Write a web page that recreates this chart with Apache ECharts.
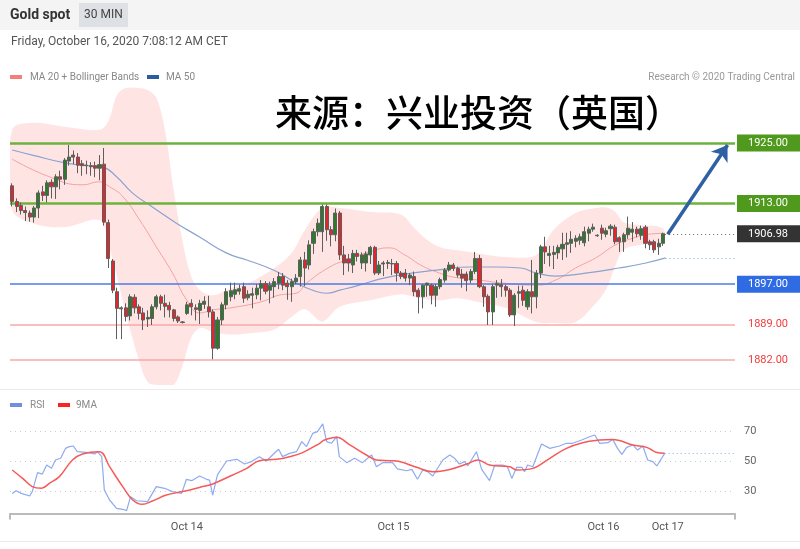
<!DOCTYPE html>
<html><head><meta charset="utf-8">
<script src="https://cdn.jsdelivr.net/npm/echarts@6/dist/echarts.min.js"></script>
<style>html,body{margin:0;padding:0;background:#fff}#c{width:800px;height:549px}</style>
</head><body><div id="c"></div>
<script>
// ---- data ----
// candles: [open, close, low, high], 30-min bars
const candles = [
[1916.5,1913.4,1912.4,1917.0],[1913.4,1912.4,1911.3,1914.0],[1912.6,1911.6,1910.8,1913.2],[1911.6,1911.2,1909.5,1912.4],
[1911.1,1910.3,1909.4,1911.6],[1910.3,1912.1,1909.2,1912.5],[1912.1,1915.1,1910.1,1915.6],[1915.3,1914.6,1913.5,1916.5],
[1914.6,1917.1,1913.2,1917.6],[1917.2,1916.3,1914.0,1917.8],[1916.3,1918.3,1913.9,1918.8],[1918.3,1917.8,1915.8,1919.5],
[1917.8,1921.6,1916.7,1922.0],[1921.4,1922.2,1920.5,1924.6],[1922.6,1922.2,1920.8,1923.5],[1922.2,1920.6,1919.0,1923.0],
[1920.9,1920.5,1918.5,1921.6],[1920.6,1920.5,1918.8,1921.5],[1920.5,1920.3,1918.5,1921.2],[1920.5,1920.0,1918.2,1921.3],
[1920.0,1920.7,1917.6,1922.6],[1920.8,1909.3,1908.6,1924.0],[1909.2,1902.1,1900.2,1909.8],[1901.6,1895.8,1895.2,1902.0],
[1895.5,1892.2,1886.1,1896.3],[1892.3,1892.1,1886.1,1892.6],[1892.3,1890.6,1889.6,1893.2],[1890.7,1894.5,1889.8,1895.0],
[1894.4,1892.3,1891.2,1895.0],[1892.5,1891.2,1890.0,1893.0],[1891.3,1889.9,1887.9,1892.3],[1890.1,1890.4,1888.5,1891.8],
[1890.2,1892.5,1888.9,1893.0],[1892.5,1894.5,1892.0,1894.9],[1894.5,1893.2,1891.8,1894.9],[1893.2,1892.6,1890.4,1894.9],
[1892.8,1891.9,1890.4,1893.5],[1891.9,1890.2,1889.6,1892.1],[1890.5,1889.7,1889.3,1890.8],[1889.5,1889.4,1889.2,1889.7],
[1891.2,1892.9,1890.9,1893.5],[1893.2,1892.5,1890.8,1894.0],[1892.3,1892.0,1889.8,1893.0],[1891.8,1893.2,1889.1,1893.9],
[1893.0,1893.6,1892.1,1894.6],[1892.5,1891.5,1890.4,1894.7],[1891.5,1884.3,1882.1,1892.0],[1884.3,1889.9,1884.0,1890.5],
[1889.9,1892.9,1888.9,1893.4],[1892.9,1895.5,1892.0,1896.2],[1894.5,1895.7,1893.6,1897.3],[1895.0,1895.9,1894.0,1897.3],
[1895.6,1896.1,1894.9,1896.9],[1896.5,1894.2,1893.3,1897.3],[1894.3,1895.0,1893.8,1895.8],[1894.8,1895.1,1892.2,1896.3],
[1894.9,1896.2,1894.0,1897.0],[1896.2,1897.1,1893.8,1897.8],[1897.1,1895.6,1895.0,1897.6],[1895.8,1896.8,1893.2,1897.5],
[1896.5,1897.5,1894.3,1898.2],[1897.2,1898.5,1896.0,1899.4],[1898.5,1896.8,1895.8,1899.2],[1897.2,1896.5,1893.9,1897.8],
[1896.5,1897.5,1893.5,1898.1],[1897.5,1898.2,1897.0,1899.0],[1898.5,1901.8,1896.5,1902.4],[1901.8,1900.2,1896.6,1903.4],
[1900.8,1904.8,1899.9,1905.7],[1905.1,1907.4,1903.0,1908.0],[1907.4,1909.1,1906.5,1910.0],[1907.4,1912.4,1903.4,1912.8],
[1912.4,1907.8,1905.6,1912.8],[1907.8,1906.8,1904.5,1908.5],[1906.8,1911.1,1905.5,1912.0],[1911.1,1902.8,1901.8,1911.5],
[1902.8,1901.2,1898.8,1904.6],[1902.0,1901.2,1899.5,1903.0],[1900.8,1903.1,1899.2,1903.8],[1903.1,1902.5,1901.5,1903.8],
[1901.2,1902.8,1900.0,1903.3],[1901.2,1903.0,1899.5,1903.5],[1902.8,1904.3,1901.0,1904.6],[1904.3,1899.2,1898.8,1904.6],
[1899.2,1900.8,1898.8,1901.6],[1901.0,1901.2,1898.6,1901.6],[1901.1,1901.3,1900.0,1901.8],[1901.1,1901.0,1898.8,1902.0],
[1901.1,1899.2,1897.5,1901.6],[1899.2,1898.5,1898.0,1899.6],[1899.2,1898.2,1897.5,1900.0],[1898.2,1898.8,1896.8,1899.2],
[1898.5,1895.5,1894.6,1899.5],[1895.8,1894.5,1891.2,1896.2],[1894.5,1896.8,1892.2,1897.0],[1896.8,1897.2,1894.5,1897.3],
[1896.8,1894.8,1893.0,1897.1],[1894.8,1896.5,1892.5,1897.0],[1896.5,1897.9,1896.0,1898.3],[1897.8,1899.8,1897.3,1900.2],
[1899.8,1900.8,1899.5,1901.4],[1900.8,1900.1,1899.6,1901.2],[1900.1,1898.8,1898.3,1900.5],[1899.0,1898.2,1896.3,1900.0],
[1899.0,1897.7,1895.6,1899.5],[1897.8,1899.5,1897.2,1900.0],[1899.5,1902.1,1899.0,1903.4],[1902.1,1896.5,1896.2,1902.8],
[1896.5,1894.5,1892.5,1896.8],[1894.6,1891.5,1888.9,1895.0],[1891.5,1896.5,1888.9,1897.0],[1896.8,1897.1,1894.3,1897.8],
[1896.9,1896.5,1894.5,1898.0],[1896.5,1895.8,1894.5,1896.9],[1895.8,1890.9,1890.5,1896.2],[1890.9,1894.8,1888.7,1895.2],
[1895.2,1895.5,1892.3,1896.7],[1895.8,1893.8,1892.7,1896.7],[1892.5,1895.5,1891.9,1896.0],[1895.5,1894.5,1891.2,1901.8],
[1894.5,1899.2,1892.2,1899.8],[1899.2,1904.4,1898.2,1904.8],[1904.4,1903.4,1901.0,1906.4],[1902.7,1903.1,1900.5,1904.6],
[1902.9,1903.3,1900.0,1904.6],[1903.2,1904.3,1902.0,1904.8],[1904.0,1904.9,1901.8,1907.2],[1904.9,1905.2,1902.3,1907.2],
[1905.1,1905.9,1903.2,1907.5],[1905.5,1906.1,1904.3,1906.7],[1905.7,1906.4,1904.8,1907.0],[1905.2,1907.4,1904.5,1908.4],
[1907.1,1907.9,1905.5,1908.4],[1907.9,1908.3,1907.4,1909.0],[1906.7,1906.6,1906.4,1906.9],[1908.1,1907.1,1905.8,1908.8],
[1906.9,1907.6,1906.3,1908.2],[1908.0,1908.5,1906.6,1908.9],[1908.3,1905.4,1904.9,1908.8],[1906.2,1905.4,1903.4,1906.5],
[1905.4,1906.8,1903.4,1907.2],[1906.8,1908.1,1906.0,1910.4],[1907.3,1907.9,1905.4,1909.3],[1907.9,1907.0,1906.3,1908.4],
[1906.7,1908.0,1905.8,1908.6],[1908.3,1905.1,1904.1,1908.7],[1905.4,1904.8,1903.8,1905.8],[1905.4,1903.8,1903.2,1905.8],
[1904.4,1905.1,1902.8,1906.0],[1905.1,1906.98,1904.6,1907.2]
];
const slotCount = 166; // bar slots across the plot (data + empty space on the right)

const bandIdx   = [0,5,12,20,22,24,26,29,31,33,35,37,39,41,43,46,50,55,60,64,67,71,75,82,89,92,95,98,102,108,113,120,124,129,133,136,138,140,144,149];
const bandUpper = [1927.6,1929.0,1928.2,1927.6,1929.3,1934.5,1935.9,1935.9,1935.5,1934.0,1927.4,1915.5,1905.5,1898.5,1895.8,1894.8,1896.2,1897.6,1900.2,1903.2,1907.7,1912.1,1912.1,1911.3,1910.8,1908.2,1905.8,1904.3,1903.7,1902.9,1902.4,1902.8,1907.8,1911.1,1912.0,1912.2,1911.4,1909.3,1908.7,1908.1];
const bandLower = [1911.7,1909.0,1908.3,1909.7,1905.0,1898.5,1891.3,1882.0,1877.6,1877.0,1877.0,1877.0,1880.8,1886.4,1888.3,1887.5,1887.0,1887.3,1888.0,1890.5,1892.0,1889.6,1892.5,1893.8,1895.0,1894.5,1894.0,1893.8,1894.2,1893.2,1892.3,1889.5,1889.3,1889.5,1892.6,1896.0,1900.4,1903.8,1904.8,1905.4];

const ma20Idx = [0,8.5,16,20,22.3,25.3,29.2,33,36.7,40,43,46,50,57,61,65,67.4,72.7,76.6,81.8,86.2,89.9,93.5,97.2,101,107,112.5,120,124.4,129,133.6,138.2,142.8,145.7,149.5];
const ma20Val = [1921.8,1918.3,1916.7,1917.3,1916.3,1914.4,1909.7,1904.4,1899.2,1893.8,1891.3,1891.9,1892.3,1893.5,1894.8,1895.2,1897.2,1900.4,1901.8,1903.4,1904.2,1902.8,1900.8,1899.4,1898.4,1897.8,1897.2,1896.8,1897.8,1900.2,1902.2,1904.8,1906.3,1906.9,1907.1];

const ma50Idx = [0,4.6,12.4,18.4,20.7,23.9,27.5,32.1,37.6,43,49,53.7,58.2,61.2,65.1,68.8,72,75,79.5,84.1,89.9,97.2,105,111,116.4,120,124.4,131.3,138.9,145.1,149.6];
const ma50Val = [1923.6,1922.6,1921.0,1920.4,1920.2,1918.3,1915.1,1912.3,1909.1,1906.3,1903.2,1901.8,1900.4,1899.2,1897.2,1895.8,1895.2,1895.8,1896.8,1898.0,1899.0,1899.8,1900.4,1900.4,1900.2,1899.2,1898.6,1899.2,1900.2,1901.2,1902.2];

const rsiIdx = [0,0.9,2.1,4.0,4.6,5.8,6.9,7.9,9.0,9.9,11.1,12.2,13.1,14.0,14.9,17.0,18.9,19.5,20.5,21.1,22.3,23.9,25.3,26.2,27.1,28.5,31.0,33.0,34.9,36.7,38.8,39.9,41.1,42.9,44.5,45.2,45.9,47.0,49.1,51.4,53.2,54.8,56.6,58.2,59.6,61.0,61.9,63.5,65.1,66.3,67.4,68.8,69.9,71.1,72.0,73.1,74.3,74.9,76.6,78.4,80.2,82.3,83.4,84.8,87.1,88.2,90.3,91.5,92.8,94.0,95.1,96.3,98.6,100.2,101.3,102.4,103.6,104.3,106.3,107.5,109.3,110.5,112.3,113.4,114.4,115.5,116.7,117.3,118.0,119.2,121.2,123.1,125.3,126.9,128.3,130.4,132.2,133.4,134.5,136.4,137.5,138.6,139.6,140.7,142.1,143.2,144.4,145.5,146.7,147.6,149.4];
const rsiVal = [28.4,30.2,28.4,26.7,29.6,42.2,41.3,47.3,45.1,50.7,51.8,58.4,59.6,60,56.2,55.8,54.7,56.2,52.9,30.7,24,18.4,17.8,16.9,26.2,23.5,22.9,32.9,31.8,29.6,28.4,37.8,36.9,40,37.8,37.3,27.3,40.7,50,51.1,48,49.6,52.9,50,54,57.8,52.9,55.1,56.2,62.9,59.6,68.4,69.6,74.7,62.9,61.8,66.2,52.9,48.9,51.8,48.9,54,46.2,48.9,48.9,44.7,43.5,44.4,37.8,44,42.9,40,50.7,54,51.8,48,49.6,46.7,56.2,44.4,36.9,47.3,47.3,46.2,38.4,45.8,45.8,42.9,47.3,46.2,61.3,58.4,60,61.8,61.8,64,66.2,67.3,61.8,62.2,64.4,58.4,54.4,59.1,60.7,57.3,60,50.7,49.6,46.7,55.1];

const ma9Idx = [0,2.4,4.6,6.7,8.5,10.8,13.8,16.1,20.0,22.3,25.3,27.6,29.8,32.1,35.3,39.0,42.9,45.9,50.5,53.7,56.6,60.5,63.5,66.5,70.4,71.5,74.3,77.3,81.1,83.4,86.4,88.7,92.6,96.3,100.2,104.1,106.6,109.3,113.9,115.5,119.2,123.1,126.9,130.6,134.5,137.5,142.1,145.3,147.6,149.4];
const ma9Val = [44,38.4,32.9,31.8,35.1,39.6,50.7,54.7,56.2,46.2,32.9,24,21.1,23.3,27.3,29.6,32.4,34.7,40.7,45.1,50.2,51.1,52.9,55.6,61.8,64,65.8,60.7,54,50.7,50.2,49.6,45.8,42.9,44.4,48,50.7,47.3,46.2,44,45.1,51.8,58.4,62.2,64,64.4,60.7,59.1,55.6,55.1];

const levelsGreen = [1925, 1913];
const levelBlue = 1897;
const levelsRed = [1889, 1882];
const lastPrice = 1906.98;
const lastMa50 = 1902.2;
const lastRsi = 55.1;
const arrowFrom = [150.1, 1906.9];
const arrowTo = [163.8, 1924.6];

const xLabelPos = [40, 87.3, 135.4, 150.1];
const xLabelText = ['Oct 14', 'Oct 15', 'Oct 16', 'Oct 17'];
const rsiTicks = [30, 50, 70];

// ---- build ----
const pairs = (idx, val) => idx.map((v, i) => [v, val[i]]);
const cats = Array.from({length: slotCount}, (_, i) => i);
const FONT = 'Roboto, "Noto Sans", sans-serif';

function tag(text, bg, color) {
  return {show: true, position: 'end', distance: 2, formatter: text, color: color || '#fff',
    backgroundColor: bg || 'transparent', padding: [3, 12, 3, 11], fontSize: 11, fontFamily: FONT};
}

const mainLines = [];
levelsGreen.forEach(v => mainLines.push({yAxis: v, lineStyle: {color: '#6cb33e', width: 2.5, type: 'solid'}, label: tag(v.toFixed(2), '#4f9a1c')}));
mainLines.push({yAxis: levelBlue, lineStyle: {color: '#4a7ce6', width: 1.5, type: 'solid'}, label: tag(levelBlue.toFixed(2), '#2f6be3')});
levelsRed.forEach(v => mainLines.push({yAxis: v, lineStyle: {color: '#f7a9a9', width: 1.5, type: 'solid'}, label: tag(v.toFixed(2), null, '#f03c3c')}));
mainLines.push([{coord: [candles.length - 0.5, lastPrice], lineStyle: {color: '#666', width: 1, type: [1, 3]}, label: tag(lastPrice.toFixed(2), '#333')}, {coord: [slotCount - 0.5, lastPrice]}]);
mainLines.push([{coord: [candles.length - 0.4, lastMa50], lineStyle: {color: '#7fa0dc', width: 1, type: [1, 3]}, label: {show: false}}, {coord: [slotCount - 0.5, lastMa50]}]);
mainLines.push([{coord: arrowFrom, symbol: 'none', lineStyle: {color: '#2f60a3', width: 3.5, type: 'solid'}, label: {show: false}}, {coord: arrowTo, symbol: 'arrow', symbolSize: 15}]);

const bandData = bandIdx.map((v, i) => [v, bandUpper[i], bandLower[i]]);

function renderBand(params, api) {
  if (params.dataIndex !== 0) return null;
  const pts = [];
  for (let i = 0; i < bandData.length; i++) pts.push(api.coord([bandData[i][0], bandData[i][1]]));
  for (let i = bandData.length - 1; i >= 0; i--) pts.push(api.coord([bandData[i][0], bandData[i][2]]));
  return {type: 'polygon', shape: {points: pts, smooth: 0.35}, style: {fill: 'rgba(255,150,150,0.26)'}, silent: true};
}

const option = {
  animation: false,
  grid: [
    {left: 10, right: 65, top: 87.5, height: 297.5},
    {left: 10, right: 65, top: 408.5, height: 105}
  ],
  xAxis: [
    {type: 'category', gridIndex: 0, data: cats, show: false, boundaryGap: true},
    {type: 'value', gridIndex: 0, min: -0.5, max: slotCount - 0.5, show: false},
    {type: 'value', gridIndex: 1, min: -0.5, max: slotCount - 0.5,
      axisLine: {show: true, lineStyle: {color: '#bbb', width: 2}},
      axisTick: {show: true, customValues: [-0.5, slotCount - 0.5], length: 6, lineStyle: {color: '#bbb', width: 2}},
      splitLine: {show: false},
      axisLabel: {customValues: xLabelPos, color: '#555', fontSize: 11, fontFamily: FONT, margin: 8,
        formatter: v => { let b = 0; xLabelPos.forEach((p, i) => { if (Math.abs(p - v) < Math.abs(xLabelPos[b] - v)) b = i; }); return xLabelText[b]; }}}
  ],
  yAxis: [
    {type: 'value', gridIndex: 0, min: 1877, max: 1936, show: false},
    {type: 'value', gridIndex: 1, min: 15, max: 85, position: 'right',
      axisLine: {show: false}, axisTick: {show: false, customValues: rsiTicks},
      axisLabel: {customValues: rsiTicks, color: '#666', fontSize: 11, fontFamily: FONT, margin: 9},
      splitLine: {show: true, lineStyle: {color: '#ccc', type: [1, 4], width: 1}}}
  ],
  series: [
    {name: 'band', type: 'custom', xAxisIndex: 1, yAxisIndex: 0, clip: true, renderItem: renderBand,
      encode: {x: 0, y: [1, 2]}, data: bandData, z: 1, silent: true},
    {name: 'MA 20 + Bollinger Bands', type: 'line', xAxisIndex: 1, yAxisIndex: 0, smooth: 0.5, symbol: 'none',
      lineStyle: {color: '#f5a0a0', width: 1}, data: pairs(ma20Idx, ma20Val), z: 2},
    {name: 'MA 50', type: 'line', xAxisIndex: 1, yAxisIndex: 0, smooth: 0.5, symbol: 'none',
      lineStyle: {color: '#8aa3d0', width: 1.2}, data: pairs(ma50Idx, ma50Val), z: 2,
      markLine: {silent: true, symbol: 'none', data: mainLines}},
    {name: 'Gold', type: 'candlestick', xAxisIndex: 0, yAxisIndex: 0, barWidth: 3.6, data: candles, z: 5,
      itemStyle: {color: '#2c7a2c', color0: '#e3262b', borderColor: '#5e5e5e', borderColor0: '#5e5e5e', borderWidth: 1}},
    {name: 'RSI', type: 'line', xAxisIndex: 2, yAxisIndex: 1, symbol: 'none',
      lineStyle: {color: '#8eaaf0', width: 1.2}, data: pairs(rsiIdx, rsiVal),
      markLine: {silent: true, symbol: 'none', label: {show: false},
        data: [[{coord: [rsiIdx[rsiIdx.length - 1], lastRsi], lineStyle: {color: '#8eaaf0', type: [1, 3], width: 1}}, {coord: [slotCount - 0.5, lastRsi]}]]}},
    {name: '9MA', type: 'line', xAxisIndex: 2, yAxisIndex: 1, symbol: 'none', smooth: 0.4,
      lineStyle: {color: '#f55a5a', width: 1.5}, data: pairs(ma9Idx, ma9Val)}
  ],
  graphic: [
    {type: 'rect', shape: {x: 0, y: 0, width: 800, height: 30}, style: {fill: '#f4f4f4'}, z: -10},
    {type: 'rect', shape: {x: 79, y: 3, width: 49, height: 24}, style: {fill: '#dde1e6'}, z: -9},
    {type: 'text', x: 10, y: 15, style: {text: 'Gold spot', font: 'bold 14px Roboto, sans-serif', fill: '#333', verticalAlign: 'middle'}},
    {type: 'text', x: 103.5, y: 15, style: {text: '30 MIN', font: '12px Roboto, sans-serif', fill: '#444', align: 'center', verticalAlign: 'middle'}},
    {type: 'text', x: 11, y: 42, style: {text: 'Friday, October 16, 2020 7:08:12 AM CET', font: '12px Roboto, sans-serif', fill: '#555', verticalAlign: 'middle'}},
    {type: 'rect', shape: {x: 10, y: 75, width: 12, height: 4}, style: {fill: '#f47f7f'}},
    {type: 'text', x: 30, y: 77, style: {text: 'MA 20 + Bollinger Bands', font: '10px Roboto, sans-serif', fill: '#888', verticalAlign: 'middle'}},
    {type: 'rect', shape: {x: 147, y: 75, width: 12, height: 4}, style: {fill: '#2d5ba0'}},
    {type: 'text', x: 166, y: 77, style: {text: 'MA 50', font: '10px Roboto, sans-serif', fill: '#888', verticalAlign: 'middle'}},
    {type: 'text', x: 795, y: 77, style: {text: 'Research © 2020 Trading Central', font: '10px Roboto, sans-serif', fill: '#999', align: 'right', verticalAlign: 'middle'}},
    {type: 'text', x: 275, y: 113, style: {text: '来源：兴业投资（英国）', font: '500 37px "Noto Sans CJK SC", sans-serif', fill: '#000', verticalAlign: 'middle'}, z: 50},
    {type: 'rect', shape: {x: 0, y: 389, width: 800, height: 1}, style: {fill: '#ececec'}},
    {type: 'rect', shape: {x: 10, y: 403, width: 12, height: 4}, style: {fill: '#6f8fe0'}},
    {type: 'text', x: 30, y: 405, style: {text: 'RSI', font: '10px Roboto, sans-serif', fill: '#888', verticalAlign: 'middle'}},
    {type: 'rect', shape: {x: 58, y: 403, width: 12, height: 4}, style: {fill: '#f22'}},
    {type: 'text', x: 76, y: 405, style: {text: '9MA', font: '10px Roboto, sans-serif', fill: '#888', verticalAlign: 'middle'}},
    {type: 'rect', shape: {x: 0, y: 541, width: 800, height: 1}, style: {fill: '#ececec'}}
  ]
};
echarts.init(document.getElementById('c'), null, {renderer: 'canvas'}).setOption(option);
</script>
</body></html>
